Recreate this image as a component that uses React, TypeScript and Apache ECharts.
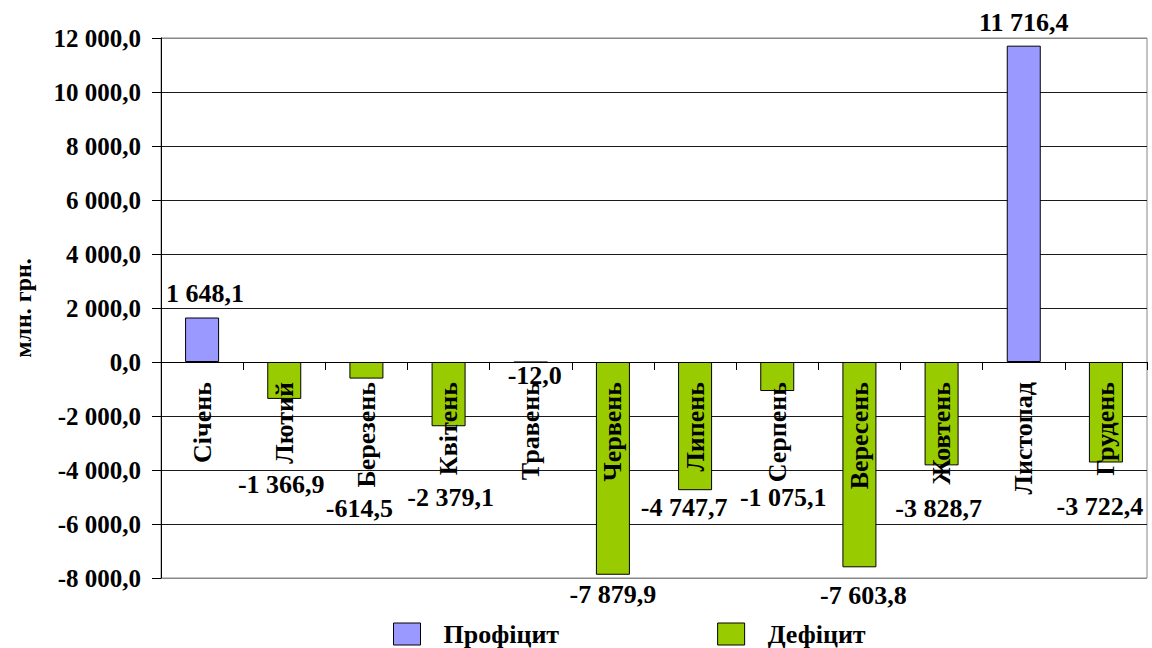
import React, { useEffect, useRef } from "react";
import * as echarts from "echarts";

const categories = ["Січень", "Лютий", "Березень", "Квітень", "Травень", "Червень", "Липень", "Серпень", "Вересень", "Жовтень", "Листопад", "Грудень"];
const values = [1648.1, -1366.9, -614.5, -2379.1, -12.0, -7879.9, -4747.7, -1075.1, -7603.8, -3828.7, 11716.4, -3722.4];
// label distance from bar end (styling only)
const labelDistances = [11, 73, 117, 58, 0, 7, 4, 93, 15, 30, 10, 31];
const labelShiftX = [3, -3, -7, 2, 4, 0, -11, 6, 4, -3, 0, -6];
const seriesNames = ["Профіцит", "Дефіцит"];
const colors = ["#9999FF", "#99CC00"];
const yMin = -8000;
const yMax = 12000;
const yInterval = 2000;

const FONT = "'Liberation Serif', 'Times New Roman', serif";
const GRID_TOP = 38;
const GRID_BOTTOM = 70;
const CHART_H = 648;

function fmt(v: number): string {
  const neg = v < 0;
  const s = Math.abs(v).toFixed(1);
  const [ip, dp] = s.split(".");
  const withSp = ip.replace(/\B(?=(\d{3})+(?!\d))/g, " ");
  return (neg ? "-" : "") + withSp + "," + dp;
}

export default function App() {
  const ref = useRef<HTMLDivElement>(null);
  useEffect(() => {
    if (!ref.current) return;
    const chart = echarts.init(ref.current, undefined, { renderer: "svg" });
    const mk = (positive: boolean) =>
      values.map((v, i) => {
        if ((v >= 0) !== positive) return "-";
        return {
          value: v,
          label: {
            position: v >= 0 ? "top" : "bottom",
            distance: labelDistances[i],
            offset: [labelShiftX[i], 0],
          },
        };
      });
    const splitColors: string[] = [];
    const n = Math.round((yMax - yMin) / yInterval);
    for (let i = 0; i <= n; i++) splitColors.push(i === 0 || i === n ? "#888888" : "#1a1a1a");
    // move category axis up to the zero line
    const plotH = CHART_H - GRID_TOP - GRID_BOTTOM;
    const zeroOffset = ((0 - yMin) / (yMax - yMin)) * plotH;
    chart.setOption({
      animation: false,
      textStyle: { fontFamily: FONT },
      grid: {
        left: 161,
        right: 5,
        top: GRID_TOP,
        bottom: GRID_BOTTOM,
        outerBoundsMode: "none",
        containLabel: false,
        show: true,
        borderColor: "#888888",
        borderWidth: 1,
        backgroundColor: "#ffffff",
      },
      legend: {
        data: seriesNames,
        left: 393,
        top: 621,
        padding: 0,
        itemWidth: 27,
        itemHeight: 22,
        itemGap: 158,
        icon: "rect",
        itemStyle: { borderColor: "#000", borderWidth: 1 },
        textStyle: {
          fontFamily: FONT,
          fontSize: 26,
          fontWeight: "bold",
          color: "#000",
          padding: [0, 0, 0, 18],
        },
      },
      xAxis: {
        type: "category",
        data: categories,
        z: 10,
        position: "bottom",
        offset: -zeroOffset,
        axisLine: { onZero: false, lineStyle: { color: "#000", width: 1 } },
        axisTick: { show: true, length: 8, lineStyle: { color: "#000" } },
        axisLabel: {
          rotate: 90,
          margin: 20,
          interval: 0,
          fontFamily: FONT,
          fontSize: 26,
          fontWeight: "bold",
          color: "#000",
        },
        splitLine: { show: false },
      },
      yAxis: {
        type: "value",
        min: yMin,
        max: yMax,
        interval: yInterval,
        name: "млн. грн.",
        nameLocation: "middle",
        nameGap: 126,
        nameTextStyle: { fontFamily: FONT, fontSize: 24, fontWeight: "bold", color: "#000" },
        axisLine: { show: true, lineStyle: { color: "#000", width: 1 } },
        axisTick: { show: true, length: 9, lineStyle: { color: "#000" } },
        axisLabel: {
          margin: 20,
          fontFamily: FONT,
          fontSize: 25,
          fontWeight: "bold",
          color: "#000",
          formatter: (v: number) => fmt(v),
        },
        splitLine: { show: true, lineStyle: { color: splitColors, width: 1 } },
      },
      series: seriesNames.map((name, si) => ({
        name,
        type: "bar",
        stack: "total",
        barWidth: 34,
        data: mk(si === 0),
        itemStyle: { color: colors[si], borderColor: "#000", borderWidth: 1 },
        label: {
          show: true,
          fontFamily: FONT,
          fontSize: 26,
          fontWeight: "bold",
          color: "#000",
          formatter: (p: any) => fmt(p.value),
        },
        z: 5,
      })),
    });
    return () => chart.dispose();
  }, []);
  return <div ref={ref} style={{ width: 1152, height: 648, position: "absolute", left: 0, top: 0 }} />;
}
